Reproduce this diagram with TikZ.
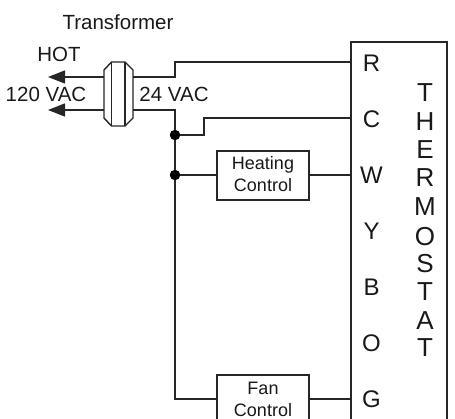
\documentclass[tikz,border=0pt]{standalone}
\usepackage{fontspec}
\setmainfont{Liberation Sans}
\usetikzlibrary{arrows.meta}
\begin{document}
\begin{tikzpicture}[x=1pt,y=-1pt,
  wire/.style={draw=black!85,line width=1.4pt},
  boxed/.style={draw=black!85,line width=1.4pt,fill=white,inner sep=0pt,outer sep=0pt},
  ctl/.style={boxed,minimum width=92pt},
  lab/.style={inner sep=0pt,text=black!90,font=\fontsize{20.5}{24}\selectfont},
  ctltxt/.style={inner sep=0pt,text=black!90,font=\fontsize{18}{20}\selectfont},
  term/.style={inner sep=0pt,text=black!90,font=\fontsize{24}{26}\selectfont},
  dot/.style={circle,fill=black,inner sep=0pt,minimum size=10.5pt},
  tip/.style={-{Triangle[length=17pt,width=13pt]}}]
\useasboundingbox (0,0) rectangle (455,419);
\clip (0,0) rectangle (455,419);
\node[boxed,minimum width=96pt,minimum height=400pt,anchor=north west] (th) at (351,42) {};
\node[ctl,minimum height=49pt] (heat) at (263,175.5) {};
\node[ctl,minimum height=70pt,anchor=north] (fan) at (263,375) {};
\node[ctltxt] (h1) at (263,165) {Heating};
\node[ctltxt] (h2) at (263,185) {Control};
\node[ctltxt] (f1) at (263,388) {Fan};
\node[ctltxt] (f2) at (263,410) {Control};
% transformer
\draw[boxed] (111.5,62) -- (125,62) -- (133,70) -- (133,118) -- (125,126) -- (111.5,126) -- (104,118) -- (104,70) -- cycle;
\draw[wire] (111.5,62) -- (111.5,126) (125,62) -- (125,126);
% coordinates
\coordinate (pl1) at (104,77);
\coordinate (pl2) at (104,110);
\coordinate (al1) at (48,77);
\coordinate (al2) at (48,110);
\coordinate (sr1) at (133,77);
\coordinate (sr2) at (133,110);
\coordinate (rr) at (351,62);
\coordinate (cc) at (351,118);
\node[dot] (d1) at (175,135) {};
\node[dot] (d2) at (175,175) {};
\coordinate (gg) at (351,399);
\draw[wire,tip] (pl1) -- (al1);
\draw[wire,tip] (pl2) -- (al2);
\draw[wire] (sr1) -| (175,62) -- (rr);
\draw[wire] (sr2) -| (d1);
\draw[wire] (d1) -- (d2);
\draw[wire] (d2) |- (fan.west |- gg);
\draw[wire] (d1) -| (204,118) -- (cc);
\draw[wire] (d2) -- (heat.west |- d2);
\draw[wire] (heat.east |- d2) -- (th.west |- d2);
\draw[wire] (fan.east |- gg) -- (gg);
% labels
\node[lab] (t1) at (118,22) {Transformer};
\node[lab] (t2) at (59,54) {HOT};
\node[lab] (t3) at (46,94) {120 VAC};
\node[lab] (t4) at (174,94) {24 VAC};
\foreach \n/\s/\y in {r/R/63,c/C/119,w/W/175,y/Y/231,b/B/287,o/O/343,g/G/399}
  \node[term] (k\n) at (371.5,\y) {\s};
\foreach \n/\s/\y in {a/T/93,b/H/121.5,c/E/150,d/R/178,e/M/207,f/O/237,g/S/264,h/T/292,i/A/320.5,j/T/348}
  \node[term,font=\fontsize{26}{28}\selectfont] (s\n) at (425,\y) {\s};
\end{tikzpicture}
\end{document}
